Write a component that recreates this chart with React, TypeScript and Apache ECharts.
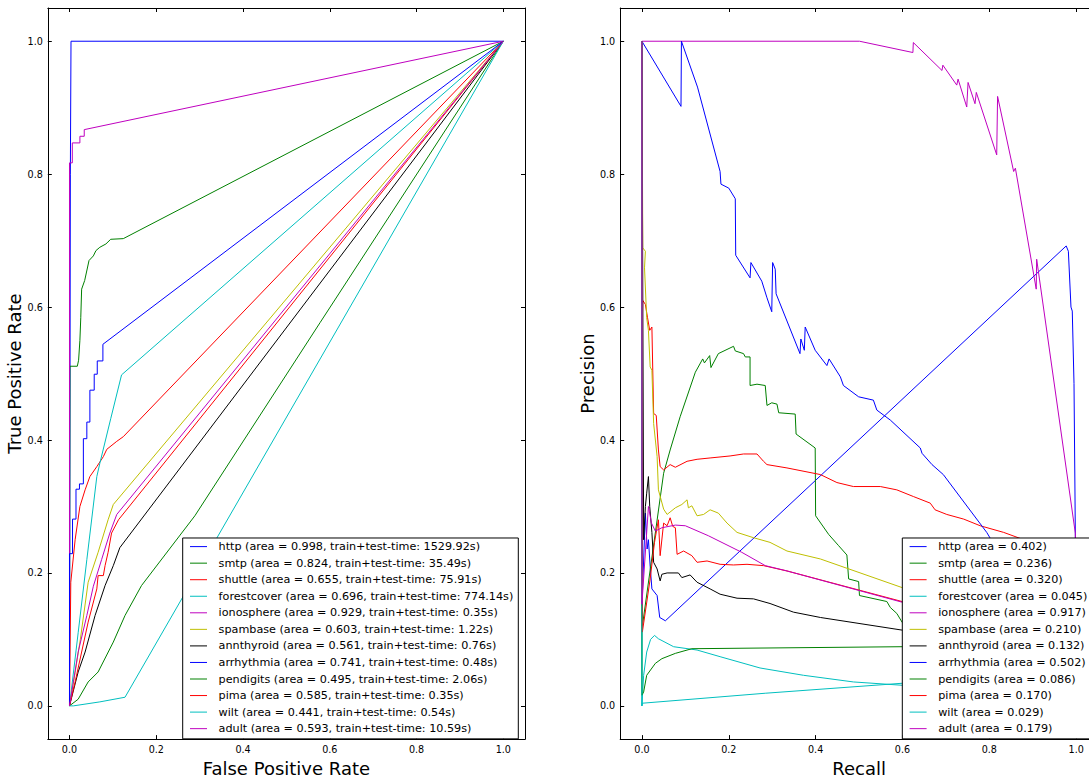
import React, { useEffect, useRef } from "react";
import * as echarts from "echarts";

const datasets = ["http", "smtp", "shuttle", "forestcover", "ionosphere", "spambase", "annthyroid", "arrhythmia", "pendigits", "pima", "wilt", "adult"];
const rocAreas = ["0.998", "0.824", "0.655", "0.696", "0.929", "0.603", "0.561", "0.741", "0.495", "0.585", "0.441", "0.593"];
const rocTimes = ["1529.92", "35.49", "75.91", "774.14", "0.35", "1.22", "0.76", "0.48", "2.06", "0.35", "0.54", "10.59"];
const prAreas = ["0.402", "0.236", "0.320", "0.045", "0.917", "0.210", "0.132", "0.502", "0.086", "0.170", "0.029", "0.179"];
const lineColors = ["#0000ff", "#008000", "#ff0000", "#00bfbf", "#bf00bf", "#bfbf00", "#000000", "#0000ff", "#008000", "#ff0000", "#00bfbf", "#bf00bf"];
const tickValues = [0, 0.2, 0.4, 0.6, 0.8, 1.0];

// ROC curves: [false positive rate, true positive rate]
const httpRoc = [[0, 0], [0.002, 0.8], [0.0035, 1.0], [1, 1]];
const smtpRoc = [[0, 0], [0.001, 0.511], [0.018, 0.511], [0.021, 0.52], [0.024, 0.55], [0.026, 0.584], [0.028, 0.627], [0.035, 0.64], [0.045, 0.67], [0.055, 0.677], [0.061, 0.685], [0.07, 0.69], [0.084, 0.695], [0.095, 0.702], [0.124, 0.703], [1, 1]];
const shuttleRoc = [[0, 0], [0.003, 0.186], [0.013, 0.25], [0.024, 0.3], [0.036, 0.325], [0.047, 0.345], [0.063, 0.36], [0.078, 0.375], [0.086, 0.386], [0.109, 0.398], [0.124, 0.405], [1, 1]];
const forestcoverRoc = [[0, 0], [0.02, 0.11], [0.04, 0.22], [0.063, 0.345], [0.07, 0.365], [0.095, 0.432], [0.12, 0.498], [1, 1]];
const ionosphereRoc = [[0, 0], [0, 0.817], [0.0065, 0.817], [0.0065, 0.847], [0.024, 0.847], [0.024, 0.857], [0.034, 0.857], [0.034, 0.867], [1, 1]];
const spambaseRoc = [[0, 0], [0.013, 0.05], [0.025, 0.1], [0.043, 0.186], [0.066, 0.231], [0.089, 0.28], [0.101, 0.303], [1, 1]];
const annthyroidRoc = [[0, 0], [0.02, 0.051], [0.036, 0.081], [0.059, 0.136], [0.082, 0.181], [0.101, 0.211], [0.116, 0.238], [1, 1]];
const arrhythmiaRoc = [[0, 0], [0, 0.229], [0.007, 0.229], [0.007, 0.281], [0.015, 0.281], [0.015, 0.326], [0.023, 0.326], [0.023, 0.334], [0.032, 0.334], [0.032, 0.402], [0.04, 0.402], [0.04, 0.427], [0.047, 0.427], [0.047, 0.475], [0.057, 0.475], [0.057, 0.499], [0.064, 0.499], [0.064, 0.519], [0.077, 0.519], [0.077, 0.544], [1, 1]];
const pendigitsRoc = [[0, 0], [0.02, 0.01], [0.043, 0.036], [0.066, 0.051], [0.101, 0.096], [0.128, 0.136], [0.166, 0.181], [0.289, 0.286], [0.578, 0.577], [1, 1]];
const pimaRoc = [[0, 0], [0.013, 0.036], [0.028, 0.081], [0.043, 0.126], [0.063, 0.176], [0.066, 0.196], [0.078, 0.196], [0.082, 0.211], [0.089, 0.231], [0.097, 0.26], [0.113, 0.28], [1, 1]];
const wiltRoc = [[0, 0], [0.009, 0], [0.07, 0.006], [0.128, 0.013], [1, 1]];
const adultRoc = [[0, 0], [0.02, 0.081], [0.04, 0.136], [0.055, 0.18], [0.074, 0.22], [0.093, 0.26], [0.109, 0.288], [1, 1]];

// Precision-recall curves: [recall, precision]
const httpPr = [[0, 1], [0, 0.15], [0.008, 0.29], [0.012, 0.236], [0.015, 0.25], [0.019, 0.21], [0.023, 0.176], [0.035, 0.166], [0.041, 0.133], [0.054, 0.128], [0.977, 0.692], [0.982, 0.684], [0.988, 0.6], [0.991, 0.594], [0.995, 0.485], [0.998, 0.26], [1.0, 0.02]];
const smtpPr = [[0, 1], [0.001, 0.12], [0.05, 0.35], [0.065, 0.385], [0.088, 0.435], [0.123, 0.502], [0.14, 0.522], [0.144, 0.516], [0.156, 0.527], [0.159, 0.509], [0.176, 0.53], [0.211, 0.541], [0.215, 0.534], [0.234, 0.53], [0.238, 0.525], [0.249, 0.525], [0.249, 0.482], [0.265, 0.484], [0.284, 0.482], [0.288, 0.452], [0.299, 0.456], [0.311, 0.454], [0.315, 0.441], [0.353, 0.439], [0.355, 0.409], [0.399, 0.388], [0.4, 0.286], [0.43, 0.258], [0.453, 0.241], [0.472, 0.227], [0.476, 0.191], [0.499, 0.187], [0.501, 0.166], [0.564, 0.157], [0.572, 0.148], [0.587, 0.139], [0.599, 0.126], [0.62, 0.11], [1.0, 0.1]];
const shuttlePr = [[0, 1], [0, 0.55], [0.002, 0.61], [0.008, 0.604], [0.013, 0.584], [0.018, 0.565], [0.023, 0.57], [0.027, 0.44], [0.033, 0.437], [0.038, 0.385], [0.042, 0.36], [0.05, 0.355], [0.065, 0.363], [0.077, 0.359], [0.104, 0.368], [0.127, 0.371], [0.157, 0.373], [0.203, 0.376], [0.234, 0.379], [0.265, 0.379], [0.28, 0.368], [0.288, 0.363], [0.334, 0.358], [0.411, 0.348], [0.449, 0.336], [0.487, 0.33], [0.549, 0.33], [0.587, 0.325], [0.625, 0.315], [0.664, 0.305], [0.675, 0.295], [0.702, 0.288], [0.741, 0.281], [0.779, 0.271], [0.833, 0.261], [0.9, 0.245], [1.0, 0.22]];
const forestcoverPr = [[0, 1], [0, 0], [0.004, 0.046], [0.011, 0.081], [0.02, 0.1], [0.029, 0.106], [0.038, 0.101], [0.073, 0.089], [0.127, 0.084], [0.18, 0.074], [0.272, 0.057], [0.372, 0.046], [0.487, 0.036], [0.599, 0.031], [1.0, 0.02]];
const ionospherePr = [[0, 1], [0.501, 1.0], [0.624, 0.983], [0.625, 0.998], [0.691, 0.956], [0.693, 0.964], [0.725, 0.934], [0.728, 0.943], [0.748, 0.901], [0.751, 0.938], [0.767, 0.906], [0.77, 0.923], [0.817, 0.829], [0.819, 0.917], [0.856, 0.804], [0.86, 0.809], [0.908, 0.627], [0.909, 0.672], [0.998, 0.26], [1.0, 0.2]];
const spambasePr = [[0, 1], [0.002, 0.689], [0.008, 0.684], [0.006, 0.659], [0.011, 0.584], [0.015, 0.565], [0.019, 0.51], [0.023, 0.505], [0.027, 0.425], [0.035, 0.375], [0.038, 0.325], [0.05, 0.296], [0.058, 0.288], [0.077, 0.298], [0.092, 0.303], [0.104, 0.31], [0.107, 0.298], [0.115, 0.301], [0.127, 0.286], [0.142, 0.288], [0.157, 0.295], [0.176, 0.29], [0.196, 0.275], [0.219, 0.261], [0.257, 0.253], [0.295, 0.246], [0.334, 0.233], [0.411, 0.221], [0.599, 0.178], [1.0, 0.1]];
const annthyroidPr = [[0, 1], [0.004, 0.25], [0.008, 0.3], [0.011, 0.32], [0.015, 0.345], [0.018, 0.3], [0.023, 0.261], [0.027, 0.216], [0.035, 0.206], [0.042, 0.188], [0.046, 0.198], [0.058, 0.2], [0.084, 0.2], [0.092, 0.193], [0.111, 0.197], [0.127, 0.186], [0.157, 0.176], [0.18, 0.168], [0.219, 0.162], [0.257, 0.161], [0.295, 0.154], [0.349, 0.141], [0.411, 0.133], [0.599, 0.114], [1.0, 0.08]];
const arrhythmiaPr = [[0, 1], [0.09, 0.902], [0.091, 1.0], [0.128, 0.931], [0.18, 0.804], [0.182, 0.785], [0.2, 0.779], [0.215, 0.763], [0.216, 0.678], [0.249, 0.644], [0.251, 0.667], [0.276, 0.639], [0.288, 0.614], [0.299, 0.593], [0.301, 0.667], [0.307, 0.657], [0.309, 0.62], [0.364, 0.53], [0.366, 0.552], [0.374, 0.535], [0.376, 0.57], [0.399, 0.535], [0.426, 0.512], [0.431, 0.522], [0.457, 0.495], [0.464, 0.482], [0.499, 0.465], [0.533, 0.46], [0.541, 0.445], [0.572, 0.43], [0.641, 0.388], [0.645, 0.38], [0.668, 0.363], [0.694, 0.348], [0.794, 0.261], [0.85, 0.2], [1.0, 0.15]];
const pendigitsPr = [[0, 1], [0, 0.016], [0.004, 0.021], [0.011, 0.046], [0.031, 0.064], [0.046, 0.071], [0.077, 0.079], [0.115, 0.086], [0.599, 0.089], [1.0, 0.09]];
const pimaPr = [[0, 1], [0.001, 0.111], [0.019, 0.191], [0.029, 0.246], [0.038, 0.28], [0.042, 0.226], [0.05, 0.275], [0.058, 0.271], [0.065, 0.283], [0.071, 0.27], [0.077, 0.268], [0.081, 0.228], [0.096, 0.233], [0.115, 0.226], [0.127, 0.216], [0.15, 0.218], [0.18, 0.213], [0.211, 0.212], [0.242, 0.213], [0.28, 0.211], [0.334, 0.203], [0.599, 0.157], [1.0, 0.1]];
const wiltPr = [[0, 1], [0, 0], [0.001, 0.004], [0.284, 0.019], [0.599, 0.034], [1.0, 0.05]];
const adultPr = [[0, 1], [0, 0.153], [0.015, 0.3], [0.022, 0.275], [0.031, 0.263], [0.046, 0.268], [0.077, 0.272], [0.1, 0.271], [0.153, 0.256], [0.23, 0.231], [0.284, 0.211], [0.334, 0.203], [0.599, 0.156], [1.0, 0.1]];

const rocCurves = [httpRoc, smtpRoc, shuttleRoc, forestcoverRoc, ionosphereRoc, spambaseRoc, annthyroidRoc, arrhythmiaRoc, pendigitsRoc, pimaRoc, wiltRoc, adultRoc];
const prCurves = [httpPr, smtpPr, shuttlePr, forestcoverPr, ionospherePr, spambasePr, annthyroidPr, arrhythmiaPr, pendigitsPr, pimaPr, wiltPr, adultPr];

const FONT = "DejaVu Sans";

function makeAxis(gridIndex: number, position: string, showLabel: boolean, name?: string, nameGap?: number) {
  return {
    type: "value",
    gridIndex,
    position,
    min: -0.05,
    max: 1.05,
    name: name || "",
    nameLocation: "middle",
    nameGap: nameGap || 0,
    nameTextStyle: { fontFamily: FONT, fontSize: 18, color: "#000" },
    axisLine: { show: true, onZero: false, lineStyle: { color: "#000", width: 1 } },
    axisTick: { show: true, inside: true, length: 4, customValues: tickValues, lineStyle: { color: "#000", width: 1 } },
    axisLabel: {
      show: showLabel,
      customValues: tickValues,
      formatter: (v: number) => v.toFixed(1),
      color: "#000",
      fontFamily: FONT,
      fontSize: 9.6,
      margin: 5,
    },
    splitLine: { show: false },
  };
}

function legendCfg(names: string[], left: number) {
  return {
    data: names,
    orient: "vertical",
    left,
    top: 538,
    icon: "rect",
    itemWidth: 17,
    itemHeight: 1,
    itemGap: 2.55,
    padding: [1.6, 5, 3.2, 7.3],
    backgroundColor: "#ffffff",
    borderColor: "#000",
    borderWidth: 1,
    borderRadius: 0,
    selectedMode: false,
    textStyle: { fontFamily: FONT, fontSize: 11.2, color: "#000", lineHeight: 14, padding: [0, 0, 0, 6.6] },
    z: 10,
  };
}

export default function App() {
  const ref = useRef<HTMLDivElement>(null);
  useEffect(() => {
    if (!ref.current) return;
    const chart = echarts.init(ref.current, undefined, { renderer: "svg" });
    const rocNames = datasets.map((d, i) => `${d} (area = ${rocAreas[i]}, train+test-time: ${rocTimes[i]}s)`);
    const prNames = datasets.map((d, i) => `${d} (area = ${prAreas[i]})`);
    const series: any[] = [];
    rocCurves.forEach((c, i) => {
      series.push({
        type: "line", name: rocNames[i], xAxisIndex: 0, yAxisIndex: 0, data: c,
        symbol: "none", showSymbol: false, clip: true,
        lineStyle: { width: 1, color: lineColors[i] }, itemStyle: { color: lineColors[i] },
        emphasis: { disabled: true },
      });
    });
    prCurves.forEach((c, i) => {
      series.push({
        type: "line", name: prNames[i], xAxisIndex: 2, yAxisIndex: 2, data: c,
        symbol: "none", showSymbol: false, clip: true,
        lineStyle: { width: 1, color: lineColors[i] }, itemStyle: { color: lineColors[i] },
        emphasis: { disabled: true },
      });
    });
    chart.setOption({
      animation: false,
      backgroundColor: "#ffffff",
      grid: [
        { left: 47.8, top: 8, width: 477.2, height: 737 },
        { left: 620.2, top: 8, width: 477.7, height: 737 },
      ],
      xAxis: [
        makeAxis(0, "bottom", true, "False Positive Rate", 13),
        makeAxis(0, "top", false),
        makeAxis(1, "bottom", true, "Recall", 13),
        makeAxis(1, "top", false),
      ],
      yAxis: [
        makeAxis(0, "left", true, "True Positive Rate", 21),
        makeAxis(0, "right", false),
        makeAxis(1, "left", true, "Precision", 21),
        makeAxis(1, "right", false),
      ],
      legend: [legendCfg(rocNames, 182.7), legendCfg(prNames, 902.3)],
      series,
    });
    return () => chart.dispose();
  }, []);
  return <div ref={ref} style={{ position: "fixed", left: 0, top: 0, width: 1100, height: 782 }} />;
}
